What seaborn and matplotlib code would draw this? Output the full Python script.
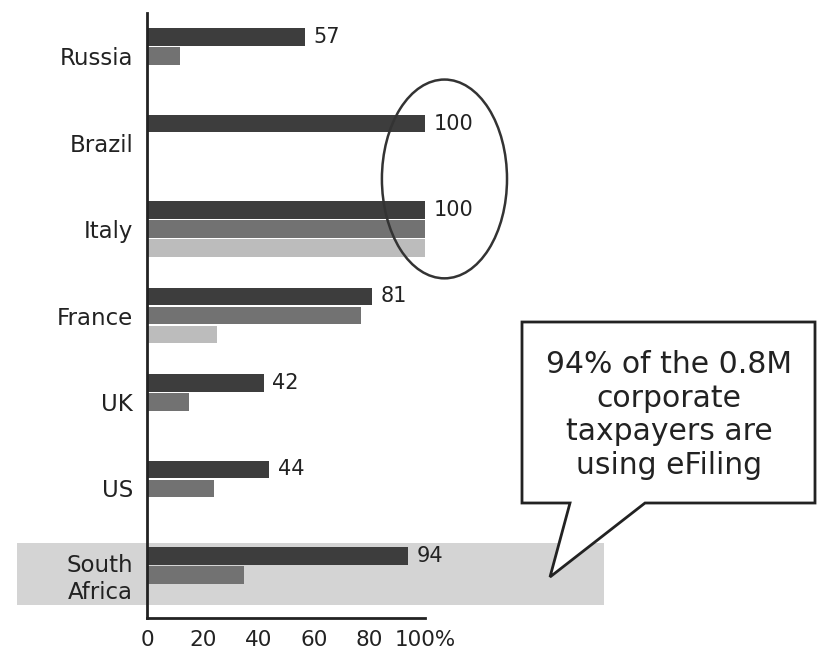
import numpy as np
import pandas as pd
import matplotlib
matplotlib.use("Agg")
import matplotlib.pyplot as plt
import seaborn as sns
from matplotlib.patches import Rectangle, Ellipse, Polygon

# data
countries = ["Russia", "Brazil", "Italy", "France", "UK", "US", "South\nAfrica"]
series_names = ["Series 1", "Series 2", "Series 3"]
series_1 = [57, 100, 100, 81, 42, 44, 94]
series_2 = [12, np.nan, 100, 77, 15, 24, 35]
series_3 = [np.nan, np.nan, 100, 25, np.nan, np.nan, np.nan]

df = pd.DataFrame({
    "country": countries * 3,
    "series": [series_names[0]] * 7 + [series_names[1]] * 7 + [series_names[2]] * 7,
    "value": series_1 + series_2 + series_3,
})

sns.set_style("white")
plt.rcParams["font.family"] = ["DejaVu Sans"]

W, H = 821, 653
fig = plt.figure(figsize=(W / 100, H / 100), dpi=100)
ax = fig.add_axes([147 / W, 1 - 618 / H, (425 - 147) / W, (618 - 13) / H])
ax.set_facecolor("none")

sns.barplot(data=df, y="country", x="value", hue="series", orient="h",
            palette=["#3d3d3d", "#727272", "#bcbcbc"], width=0.66, gap=0.08,
            linewidth=0, legend=False, ax=ax, order=countries, hue_order=series_names)

ax.bar_label(ax.containers[0], fmt="%g", padding=6, fontsize=15, color="#222")

ax.set_xlim(0, 100)
ax.set_xticks([0, 20, 40, 60, 80, 100])
ax.set_xticklabels(["0", "20", "40", "60", "80", "100%"], fontsize=15.5)
ax.tick_params(axis="x", direction="inout", length=7, width=1.5, colors="#222", pad=5)
ax.tick_params(axis="y", length=0, pad=10, labelsize=16.5, labelcolor="#222")
ax.set_xlabel("")
ax.set_ylabel("")
for side in ["top", "right"]:
    ax.spines[side].set_visible(False)
for side in ["left", "bottom"]:
    ax.spines[side].set_color("#222")
    ax.spines[side].set_linewidth(2)

def fx(px):
    return px / W

def fy(py):
    return 1 - py / H

# highlight band behind South Africa
band = Rectangle((fx(17), fy(605)), fx(604) - fx(17), fy(543) - fy(605),
                 transform=fig.transFigure, facecolor="#d4d4d4", edgecolor="none",
                 zorder=0.5, clip_on=False)
ax.add_patch(band)

# hand-drawn circle round the 100% bars
ring = Ellipse((107, 1.42), 45, 2.3, fill=False, edgecolor="#333", lw=1.8,
               clip_on=False)
ax.add_patch(ring)

# speech bubble
pts = [(522, 322), (815, 322), (815, 503), (645, 503), (550, 577), (570, 503), (522, 503)]
bubble = Polygon([(fx(x), fy(y)) for x, y in pts], closed=True, transform=fig.transFigure,
                 facecolor="white", edgecolor="#222", lw=2, zorder=5, clip_on=False)
fig.patches.append(bubble)
fig.text(fx(669), fy(415), "94% of the 0.8M\ncorporate\ntaxpayers are\nusing eFiling",
         ha="center", va="center", fontsize=21.5, color="#222", linespacing=1.2, zorder=6)

fig.savefig("out.png", dpi=100, facecolor="white")
